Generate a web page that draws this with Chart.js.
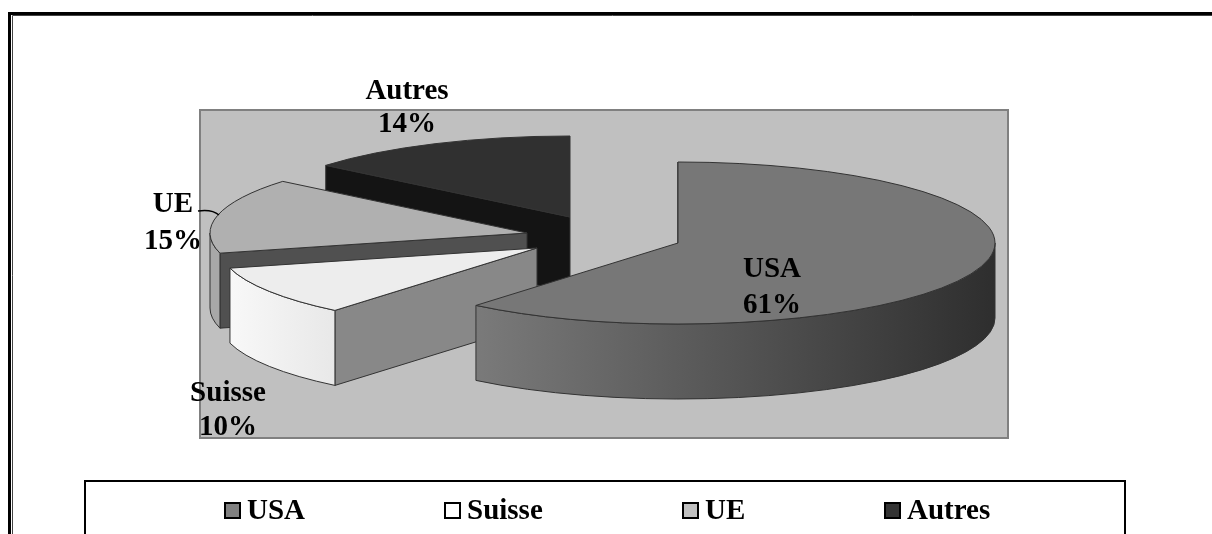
<!DOCTYPE html>
<html>
<head>
<meta charset="utf-8">
<title>Répartition</title>
<script src="https://cdn.jsdelivr.net/npm/chart.js@4/dist/chart.umd.min.js"></script>
<style>
  html, body { margin: 0; padding: 0; background: #fff; overflow: hidden; }
  #chart { display: block; }
</style>
</head>
<body>
<canvas id="chart" width="1212" height="534"></canvas>
<script>
const categories = ['USA', 'Suisse', 'UE', 'Autres'];
const shares = [61, 10, 15, 14];

const topColors = ['#777777', '#ededed', '#b0b0b0', '#303030'];
const wallColors = ['#777777', '#888888', '#505050', '#141414'];
const rimColors = [['#7a7a7a', '#2e2e2e'], ['#f8f8f8', '#e8e8e8'], ['#a8a8a8', '#a8a8a8'], ['#303030', '#303030']];
const swatchColors = ['#808080', '#ffffff', '#c0c0c0', '#333333'];

// where each exploded slice sits on the page, pie tilt and thickness
const sliceCentres = [[678, 243], [537, 248], [527, 233], [570, 217]];
const pieRadius = 317;
const tilt = 81 / 317;
const depth = 75;
const drawOrder = [3, 2, 1, 0];

const labelSpots = [[772, 270, 306], [228, 394, 428], [173, 205, 242], [407, 92, 125]];
const legendSpots = [225, 445, 683, 885];
const serif = '"Liberation Serif", serif';

function drawSlice(ctx, arc, i) {
  const [cx, cy] = sliceCentres[i];
  const R = arc.outerRadius;
  const ry = R * tilt;
  const a0 = arc.startAngle;
  const a1 = arc.endAngle;
  ctx.lineWidth = 1;
  ctx.strokeStyle = '#333333';

  // wall along the slice's first edge
  const ex = cx + R * Math.cos(a0);
  const ey = cy + ry * Math.sin(a0);
  ctx.beginPath();
  ctx.moveTo(cx, cy);
  ctx.lineTo(ex, ey);
  ctx.lineTo(ex, ey + depth);
  ctx.lineTo(cx, cy + depth);
  ctx.closePath();
  ctx.fillStyle = wallColors[i];
  ctx.fill();
  ctx.stroke();

  // outer rim, front half of the ellipse only
  const r0 = Math.max(a0, 0);
  const r1 = Math.min(a1, Math.PI);
  if (r1 > r0) {
    const grad = ctx.createLinearGradient(cx + R * Math.cos(r1), 0, cx + R * Math.cos(r0), 0);
    grad.addColorStop(0, rimColors[i][0]);
    grad.addColorStop(1, rimColors[i][1]);
    ctx.beginPath();
    ctx.ellipse(cx, cy, R, ry, 0, r0, r1);
    ctx.ellipse(cx, cy + depth, R, ry, 0, r1, r0, true);
    ctx.closePath();
    ctx.fillStyle = grad;
    ctx.fill();
    ctx.stroke();
  }

  // top face is the library's own arc, squashed and moved
  ctx.save();
  ctx.translate(cx, cy);
  ctx.scale(1, tilt);
  ctx.translate(-arc.x, -arc.y);
  arc.draw(ctx);
  ctx.restore();

  ctx.beginPath();
  ctx.moveTo(cx, cy);
  ctx.ellipse(cx, cy, R, ry, 0, a0, a1);
  ctx.closePath();
  ctx.stroke();
}

const piePlugin = {
  id: 'tiltedPie',
  beforeDraw(chart) {
    const ctx = chart.ctx;
    ctx.save();
    // page frame
    ctx.strokeStyle = '#000';
    ctx.lineWidth = 3;
    ctx.beginPath();
    ctx.moveTo(9.5, 540);
    ctx.lineTo(9.5, 13.5);
    ctx.lineTo(1212, 13.5);
    ctx.stroke();
    ctx.strokeStyle = '#444';
    ctx.lineWidth = 1;
    ctx.beginPath();
    ctx.moveTo(12.5, 540);
    ctx.lineTo(12.5, 15.5);
    ctx.lineTo(1212, 15.5);
    ctx.stroke();
    // plot area
    ctx.fillStyle = '#c0c0c0';
    ctx.fillRect(200, 110, 808, 328);
    ctx.strokeStyle = '#808080';
    ctx.lineWidth = 2;
    ctx.strokeRect(200, 110, 808, 328);
    // legend box
    ctx.strokeStyle = '#000';
    ctx.lineWidth = 2;
    ctx.strokeRect(85, 481, 1040, 70);
    ctx.restore();
  },
  beforeDatasetDraw(chart) {
    const ctx = chart.ctx;
    const arcs = chart.getDatasetMeta(0).data;
    ctx.save();
    drawOrder.forEach((i) => drawSlice(ctx, arcs[i], i));
    ctx.restore();
    return false;
  },
  afterDraw(chart) {
    const ctx = chart.ctx;
    ctx.save();
    ctx.fillStyle = '#000';
    ctx.textAlign = 'center';
    ctx.textBaseline = 'middle';
    ctx.font = 'bold 29px ' + serif;
    categories.forEach((name, i) => {
      const [x, y1, y2] = labelSpots[i];
      ctx.fillText(name, x, y1);
      ctx.fillText(shares[i] + '%', x, y2);
    });
    // leader from the UE label
    ctx.strokeStyle = '#000';
    ctx.lineWidth = 1.5;
    ctx.beginPath();
    ctx.moveTo(198, 211);
    ctx.quadraticCurveTo(212, 209, 219, 215);
    ctx.stroke();
    // legend
    ctx.textAlign = 'left';
    categories.forEach((name, i) => {
      const x = legendSpots[i];
      ctx.fillStyle = swatchColors[i];
      ctx.fillRect(x, 503, 15, 15);
      ctx.strokeStyle = '#000';
      ctx.lineWidth = 2;
      ctx.strokeRect(x, 503, 15, 15);
      ctx.fillStyle = '#000';
      ctx.fillText(name, x + 22, 512);
    });
    ctx.restore();
  }
};

new Chart(document.getElementById('chart'), {
  type: 'pie',
  data: {
    labels: categories,
    datasets: [{
      data: shares,
      backgroundColor: topColors,
      borderWidth: 0,
      radius: pieRadius
    }]
  },
  options: {
    responsive: false,
    animation: false,
    radius: pieRadius,
    plugins: {
      legend: { display: false },
      tooltip: { enabled: false }
    }
  },
  plugins: [piePlugin]
});
</script>
</body>
</html>
